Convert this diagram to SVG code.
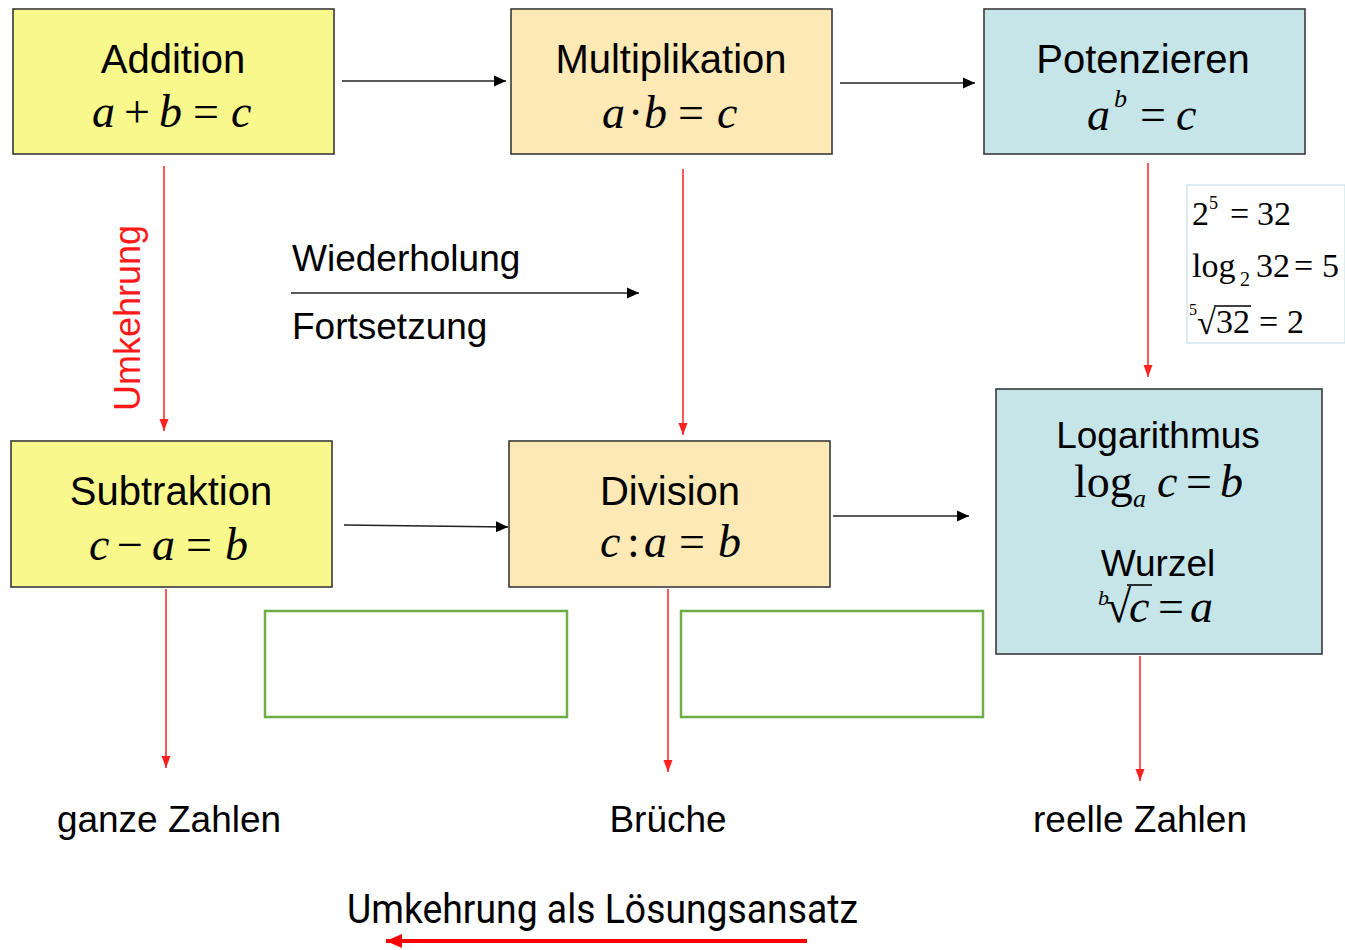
<svg xmlns="http://www.w3.org/2000/svg" width="1345" height="950" viewBox="0 0 1345 950">
<style>
.box{stroke:#3a3a3a;stroke-width:1.6}
.y{fill:#f8f88c}.o{fill:#fde9b5}.b{fill:#c6e5e8}
.g{fill:none;stroke:#70ad47;stroke-width:2.5}
.t{font-family:"Liberation Sans",Arial,sans-serif;fill:#000;text-anchor:middle}
.l{text-anchor:start}
.m{font-family:"Liberation Serif","Times New Roman",serif;fill:#000;font-size:46px;font-style:italic}
.n{font-style:normal}
.s{font-family:"Liberation Serif","Times New Roman",serif;fill:#000;font-size:34px}
.blk{stroke:#222;stroke-width:1.6;fill:none}
.red{stroke:#ff2020;stroke-width:1.5;fill:none}
</style>
<defs>
<marker id="ab" markerUnits="userSpaceOnUse" markerWidth="14" markerHeight="14" viewBox="0 0 14 14" refX="12" refY="7" orient="auto"><path d="M0,1.5 L12,7 L0,12.5 Z" fill="#000"/></marker>
<marker id="ar" markerUnits="userSpaceOnUse" markerWidth="14" markerHeight="14" viewBox="0 0 14 14" refX="12" refY="7" orient="auto"><path d="M0,2.5 L12,7 L0,11.5 Z" fill="#ff2020"/></marker>
<marker id="arb" markerUnits="userSpaceOnUse" markerWidth="18" markerHeight="18" viewBox="0 0 18 18" refX="16" refY="9" orient="auto"><path d="M0,2 L16,9 L0,16 Z" fill="#ff0000"/></marker>
</defs>

<g id="connectors">
<line class="blk" x1="342" y1="81" x2="506" y2="81" marker-end="url(#ab)"/>
<line class="blk" x1="840" y1="83" x2="975" y2="83" marker-end="url(#ab)"/>
<line class="blk" x1="291" y1="293" x2="639" y2="293" marker-end="url(#ab)"/>
<line class="blk" x1="344" y1="525" x2="508" y2="527" marker-end="url(#ab)"/>
<line class="blk" x1="833" y1="516" x2="969" y2="516" marker-end="url(#ab)"/>
<line class="red" x1="164" y1="166" x2="164" y2="431" marker-end="url(#ar)"/>
<line class="red" x1="683" y1="169" x2="683" y2="435" marker-end="url(#ar)"/>
<line class="red" x1="1148" y1="163" x2="1148" y2="377" marker-end="url(#ar)"/>
<line class="red" x1="166" y1="589" x2="166" y2="768" marker-end="url(#ar)"/>
<line class="red" x1="668" y1="589" x2="668" y2="772" marker-end="url(#ar)"/>
<line class="red" x1="1140" y1="656" x2="1140" y2="781" marker-end="url(#ar)"/>
<line x1="807" y1="941" x2="386" y2="941" stroke="#ff0000" stroke-width="4" marker-end="url(#arb)"/>
</g>

<g id="addition">
<rect class="box y" x="13" y="9" width="321" height="145"/>
<text class="t" x="173" y="73" font-size="40">Addition</text>
<text class="m" y="127"><tspan x="92">a</tspan><tspan class="n" x="124">+</tspan><tspan x="159">b</tspan><tspan class="n" x="193">=</tspan><tspan x="231">c</tspan></text>
</g>

<g id="multiplikation">
<rect class="box o" x="511" y="9" width="321" height="145"/>
<text class="t" x="671" y="73" font-size="40">Multiplikation</text>
<text class="m" y="128"><tspan x="602">a</tspan><tspan class="n" x="628">·</tspan><tspan x="644">b</tspan><tspan class="n" x="678">=</tspan><tspan x="717">c</tspan></text>
</g>

<g id="potenzieren">
<rect class="box b" x="984" y="9" width="321" height="145"/>
<text class="t" x="1143" y="73" font-size="40">Potenzieren</text>
<text class="m" y="130"><tspan x="1087">a</tspan><tspan x="1114" y="107" style="font-size:26px">b</tspan><tspan class="n" x="1140" y="130">=</tspan><tspan x="1176">c</tspan></text>
</g>

<g id="subtraktion">
<rect class="box y" x="11" y="441" width="321" height="146"/>
<text class="t" x="171" y="505" font-size="40">Subtraktion</text>
<text class="m" y="560"><tspan x="89">c</tspan><tspan class="n" x="117">−</tspan><tspan x="152">a</tspan><tspan class="n" x="186">=</tspan><tspan x="225">b</tspan></text>
</g>

<g id="division">
<rect class="box o" x="509" y="441" width="321" height="146"/>
<text class="t" x="670" y="505" font-size="40">Division</text>
<text class="m" y="557"><tspan x="600">c</tspan><tspan class="n" x="627">:</tspan><tspan x="644">a</tspan><tspan class="n" x="679">=</tspan><tspan x="718">b</tspan></text>
</g>

<g id="logarithmus">
<rect class="box b" x="996" y="389" width="326" height="265"/>
<text class="t" x="1158" y="448" font-size="37">Logarithmus</text>
<text class="m" y="497"><tspan class="n" x="1074">log</tspan><tspan x="1133" y="507" style="font-size:26px">a</tspan><tspan x="1157" y="497">c</tspan><tspan class="n" x="1186">=</tspan><tspan x="1220">b</tspan></text>
<text class="t" x="1158" y="576" font-size="37">Wurzel</text>
<text class="m" x="1098" y="605" style="font-size:22px">b</text>
<text class="m" y="622"><tspan class="n" x="1106">√</tspan><tspan x="1129">c</tspan><tspan class="n" x="1158">=</tspan><tspan x="1190">a</tspan></text>
<line x1="1127" y1="585" x2="1152" y2="585" stroke="#000" stroke-width="1.6"/>
</g>

<g id="beispiel">
<rect x="1187" y="185" width="158" height="158" fill="#fff" stroke="#d2e8ea" stroke-width="1.5"/>
<text class="s" y="225"><tspan x="1192">2</tspan><tspan x="1209" y="209" style="font-size:18px">5</tspan><tspan x="1230" y="225">=</tspan><tspan x="1257">32</tspan></text>
<text class="s" y="277"><tspan x="1192">log</tspan><tspan x="1240" y="286" style="font-size:20px">2</tspan><tspan x="1256" y="277">32</tspan><tspan x="1294">=</tspan><tspan x="1322">5</tspan></text>
<text class="s" x="1189" y="315" style="font-size:16px">5</text>
<text class="s" y="333"><tspan x="1197" y="334">√</tspan><tspan x="1216" y="333">32</tspan><tspan x="1259">=</tspan><tspan x="1287">2</tspan></text>
<line x1="1214" y1="306" x2="1251" y2="306" stroke="#000" stroke-width="1.4"/>
</g>

<g id="gruen1"><rect class="g" x="265" y="611" width="302" height="106"/></g>
<g id="gruen2"><rect class="g" x="681" y="611" width="302" height="106"/></g>

<g id="labels">
<text class="t l" x="292" y="271" font-size="37">Wiederholung</text>
<text class="t l" x="292" y="339" font-size="37">Fortsetzung</text>
<text class="t" x="0" y="0" font-size="36" style="fill:#ff1a1a" transform="translate(140,318) rotate(-90)">Umkehrung</text>
<text class="t" x="169" y="832" font-size="37">ganze Zahlen</text>
<text class="t" x="668" y="832" font-size="37">Brüche</text>
<text class="t" x="1140" y="832" font-size="37">reelle Zahlen</text>
<text x="347" y="923" font-family="Roboto, 'Liberation Sans', sans-serif" font-size="40" fill="#000" textLength="511" lengthAdjust="spacingAndGlyphs">Umkehrung als Lösungsansatz</text>
</g>
</svg>
